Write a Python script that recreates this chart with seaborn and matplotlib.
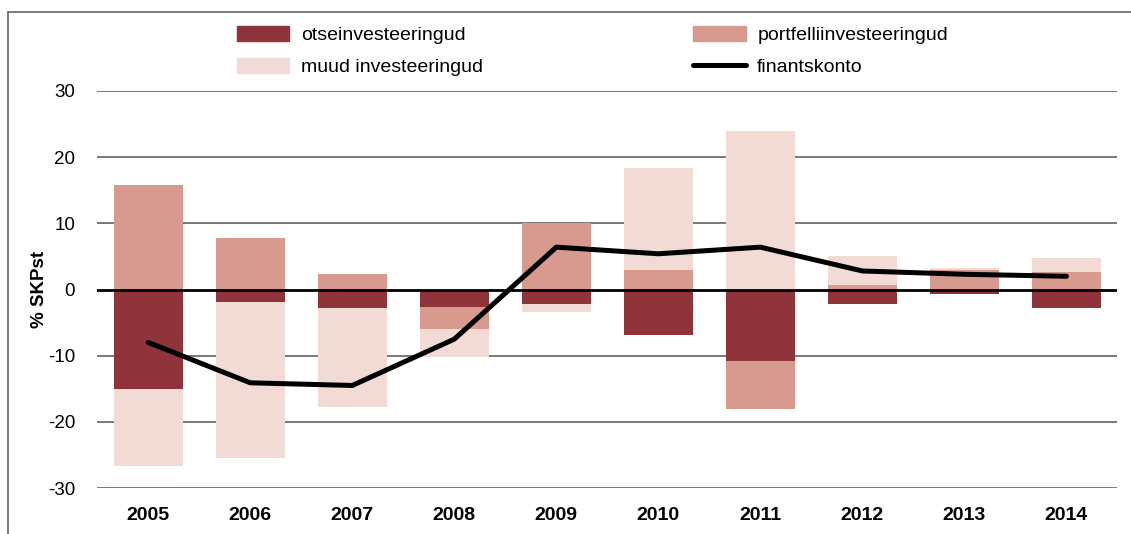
import numpy as np
import pandas as pd
import matplotlib
matplotlib.use('Agg')
import matplotlib.pyplot as plt
import seaborn as sns
from matplotlib.patches import Patch
from matplotlib.lines import Line2D

# data (% of GDP)
years = ['2005', '2006', '2007', '2008', '2009', '2010', '2011', '2012', '2013', '2014']
otse = [-15.1, -1.9, -2.8, -2.7, -2.2, -6.8, -10.8, -2.2, -0.75, -2.8]
portfell = [15.8, 7.8, 2.4, -3.2, 10.1, 2.9, -7.2, 0.65, 2.9, 2.6]
muud = [-11.5, -23.5, -14.9, -4.3, -1.2, 15.5, 23.9, 4.35, 0.3, 2.1]
finants = [-8.0, -14.1, -14.5, -7.5, 6.4, 5.4, 6.4, 2.8, 2.3, 2.0]

c_otse = '#8E343A'
c_portfell = '#D8998E'
c_muud = '#F2DAD5'

sns.set_theme(style='white')
plt.rcParams['font.family'] = ['Liberation Sans', 'DejaVu Sans']
plt.rcParams['text.color'] = 'black'
plt.rcParams['xtick.color'] = 'black'
plt.rcParams['ytick.color'] = 'black'
plt.rcParams['axes.labelcolor'] = 'black'

fig = plt.figure(figsize=(11.31, 5.34), dpi=100)
ax = fig.add_axes([0.086, 0.0861, 0.902, 0.7435])

# gridlines under the bars
for v in [30, 20, 10, -10, -20, -30]:
    ax.axhline(v, color='#555555', lw=1.1, zorder=0)

# stacked bars: positive and negative parts stacked separately,
# drawn as cumulative layers (outermost first)
df = pd.DataFrame({'year': years, 'otse': otse, 'portfell': portfell, 'muud': muud})
segs = [('otse', c_otse), ('portfell', c_portfell), ('muud', c_muud)]
cols = ['otse', 'portfell', 'muud']
for sign in [1, -1]:
    parts = df[cols].where(np.sign(df[cols]) == sign, 0)
    cum = parts.cumsum(axis=1)
    for name, col in reversed(segs):
        sns.barplot(x=df['year'], y=cum[name], color=col, width=0.68,
                    saturation=1, ax=ax, zorder=2, order=years,
                    edgecolor='none', linewidth=0)

ax.axhline(0, color='black', lw=2, zorder=3)

sns.lineplot(x=np.arange(len(years)), y=finants, color='black', lw=3.6,
             ax=ax, zorder=4, solid_capstyle='round')

ax.set_xlim(-0.5, 9.5)
ax.set_ylim(-30, 30)
ax.set_yticks([30, 20, 10, 0, -10, -20, -30])
ax.set_yticklabels(['30', '20', '10', '0', '-10', '-20', '-30'], fontsize=13.5)
ax.set_xticks(range(len(years)))
ax.set_xticklabels(years, fontsize=14, fontweight='bold')
ax.tick_params(axis='y', length=0, pad=16)
ax.tick_params(axis='x', length=0, pad=14)
ax.set_xlabel('')
ax.set_ylabel('% SKPst', fontsize=13.5, fontweight='bold')
ax.yaxis.set_label_coords(-0.048, 0.5)
for s in ax.spines.values():
    s.set_visible(False)

handles = [Patch(color=c_otse), Patch(color=c_muud),
           Patch(color=c_portfell), Line2D([0], [0], color='black', lw=3.6, solid_capstyle='round')]
labels = ['otseinvesteeringud', 'muud investeeringud', 'portfelliinvesteeringud', 'finantskonto']
fig.legend(handles, labels, ncol=2, frameon=False, fontsize=14,
           loc='upper left', bbox_to_anchor=(0.194, 0.985),
           handlelength=2.7, handleheight=0.85, handletextpad=0.6,
           columnspacing=10.8, labelspacing=0.7)

# frame lines around the figure (top and left)
fig.add_artist(Line2D([8 / 1131, 1], [1 - 12 / 534, 1 - 12 / 534], color='#666666', lw=1.2))
fig.add_artist(Line2D([8 / 1131, 8 / 1131], [0, 1 - 12 / 534], color='#666666', lw=1.2))

fig.savefig('out.png', dpi=100)
